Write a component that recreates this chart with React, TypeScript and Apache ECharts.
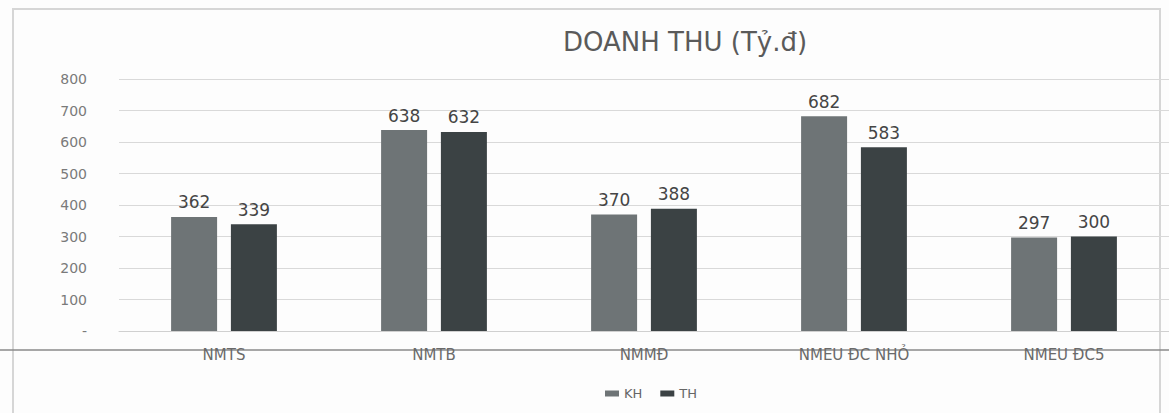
import React, { useEffect, useRef } from "react";
import * as echarts from "echarts";

const categories = ["NMTS", "NMTB", "NMMĐ", "NMEU ĐC NHỎ", "NMEU ĐC5"];
const khValues = [362, 638, 370, 682, 297];
const thValues = [339, 632, 388, 583, 300];
const seriesNames = ["KH", "TH"];

export default function App() {
  const ref = useRef<HTMLDivElement>(null);
  useEffect(() => {
    if (!ref.current) return;
    const chart = echarts.init(ref.current, undefined, { renderer: "svg" });
    const font = "'DejaVu Sans', 'Open Sans', sans-serif";
    chart.setOption({
      animation: false,
      backgroundColor: "#fdfdfd",
      textStyle: { fontFamily: font },
      title: {
        text: "DOANH THU (Tỷ.đ)",
        left: 680,
        top: 24,
        textAlign: "center",
        textStyle: { fontSize: 26, fontWeight: "normal", color: "#5a5a5a", fontFamily: font },
      },
      legend: {
        data: seriesNames,
        left: 600,
        top: 382,
        textAlign: "center",
        itemWidth: 14,
        itemHeight: 6,
        itemGap: 18,
        icon: "rect",
        textStyle: { fontSize: 13, color: "#666", fontFamily: font },
      },
      grid: { left: 119, right: -6, top: 79, bottom: 413 - 331, containLabel: false },
      xAxis: {
        type: "category",
        data: categories,
        axisTick: { show: false },
        axisLine: { show: true, lineStyle: { color: "#d0d0d0" } },
        axisLabel: { margin: 16, fontSize: 15, color: "#6a6a6a", fontFamily: font },
      },
      yAxis: {
        type: "value",
        min: 0,
        max: 800,
        interval: 100,
        axisLine: { show: false },
        axisTick: { show: false },
        splitLine: { lineStyle: { color: "#d9d9d9" } },
        axisLabel: {
          margin: 32,
          fontSize: 14,
          color: "#7a7a7a",
          fontFamily: font,
          formatter: (v: number) => (v === 0 ? "-" : String(v)),
        },
      },
      series: [
        {
          name: seriesNames[0],
          type: "bar",
          data: khValues,
          barWidth: 46,
          barGap: "30%",
          itemStyle: { color: "#6e7476" },
          label: { show: true, position: "top", distance: 6, fontSize: 17, color: "#454545", fontFamily: font },
        },
        {
          name: seriesNames[1],
          type: "bar",
          data: thValues,
          barWidth: 46,
          itemStyle: { color: "#3b4244" },
          label: { show: true, position: "top", distance: 6, fontSize: 17, color: "#454545", fontFamily: font },
        },
      ],
      graphic: [
        {
          type: "rect",
          shape: { x: 13, y: 9, width: 1147, height: 420 },
          style: { fill: "none", stroke: "#d6d6d6", lineWidth: 2 },
          silent: true,
        },
        {
          type: "line",
          shape: { x1: 0, y1: 350, x2: 1169, y2: 350 },
          style: { stroke: "#8a8a8a", lineWidth: 1.5 },
          silent: true,
        },
      ],
    });
    return () => chart.dispose();
  }, []);
  return <div ref={ref} style={{ width: 1169, height: 413, position: "fixed", left: 0, top: 0 }} />;
}
